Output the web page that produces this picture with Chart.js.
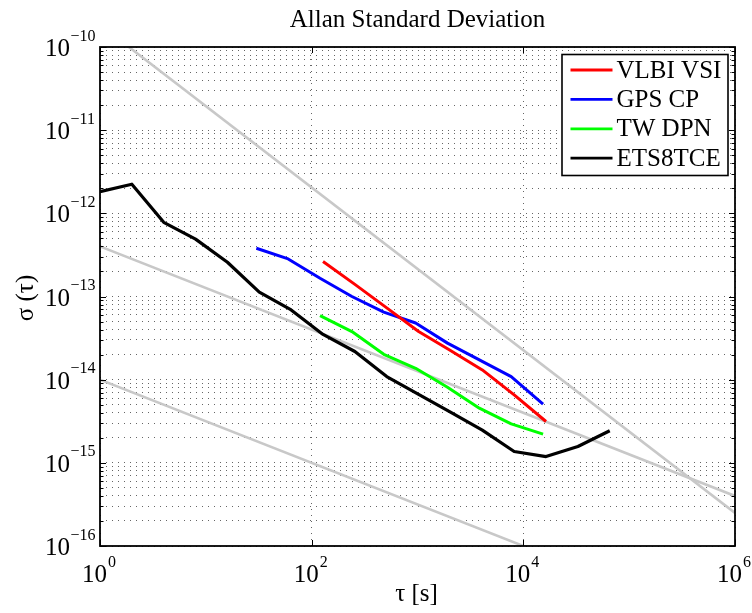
<!DOCTYPE html>
<html>
<head>
<meta charset="utf-8">
<script src="https://cdn.jsdelivr.net/npm/chart.js@4.4.1/dist/chart.umd.min.js"></script>
<style>
  html, body { margin: 0; padding: 0; background: #ffffff; }
  #wrap { width: 752px; height: 613px; position: relative; }
</style>
</head>
<body>
<div id="wrap"><canvas id="c" width="752" height="613"></canvas></div>
<script>
// ---------------- data ----------------
const SERIES_LABELS = ['VLBI VSI', 'GPS CP', 'TW DPN', 'ETS8TCE'];
const SERIES_COLORS = ['#ff0000', '#0000ff', '#00ff00', '#000000'];

const VLBI_TAU   = [128, 256, 512, 1024, 2048, 4096, 8192, 16384];
const VLBI_SIGMA = [2.63e-13, 1.40e-13, 7.3e-14, 3.8e-14, 2.24e-14, 1.31e-14, 6.56e-15, 3.14e-15];

const GPS_TAU   = [30, 60, 120, 240, 480, 960, 1920, 3840, 7680, 15360];
const GPS_SIGMA = [3.8e-13, 2.83e-13, 1.66e-13, 1.0e-13, 6.5e-14, 4.8e-14, 2.75e-14, 1.73e-14, 1.09e-14, 5.07e-15];

const TW_TAU   = [120, 240, 480, 960, 1920, 3840, 7680, 15360];
const TW_SIGMA = [5.9e-14, 3.79e-14, 2.02e-14, 1.37e-14, 8.1e-15, 4.54e-15, 2.94e-15, 2.21e-15];

const ETS_TAU   = [1, 2, 4, 8, 16, 32, 64, 128, 256, 512, 1024, 2048, 4096, 8192, 16384, 32768, 65536];
const ETS_SIGMA = [1.82e-12, 2.24e-12, 7.8e-13, 4.9e-13, 2.58e-13, 1.13e-13, 6.9e-14, 3.5e-14, 2.18e-14, 1.09e-14, 6.65e-15, 4.06e-15, 2.47e-15, 1.37e-15, 1.19e-15, 1.57e-15, 2.43e-15];

// grey reference lines (two end points each, tau = 1 and tau = 1e6)
const REF_TAU    = [1, 1e6];
const REF_A      = [1.85e-10, 2.5e-16];
const REF_B      = [4e-13, 4e-16];
const REF_C      = [1e-14, 1e-17];

// tick labels (powers of ten)
const X_TICK_EXP = [0, 2, 4, 6];
const Y_TICK_EXP = [-16, -15, -14, -13, -12, -11, -10];

const TITLE   = 'Allan Standard Deviation';
const X_TITLE = 'τ [s]';
const Y_TITLE = 'σ (τ)';

// ---------------- helpers ----------------
const FONT = '"Liberation Serif", "Times New Roman", Times, serif';
const pts = (xs, ys) => xs.map((x, i) => ({ x: x, y: ys[i] }));

function lineDs(label, xs, ys, color, width) {
  return {
    label: label,
    data: pts(xs, ys),
    borderColor: color,
    backgroundColor: color,
    borderWidth: width,
    borderJoinStyle: 'round',
    borderCapStyle: 'butt',
    pointRadius: 0,
    pointHoverRadius: 0,
    tension: 0,
    fill: false,
    clip: 0
  };
}

const datasets = [
  lineDs(SERIES_LABELS[0], VLBI_TAU, VLBI_SIGMA, SERIES_COLORS[0], 3),
  lineDs(SERIES_LABELS[1], GPS_TAU, GPS_SIGMA, SERIES_COLORS[1], 3),
  lineDs(SERIES_LABELS[2], TW_TAU, TW_SIGMA, SERIES_COLORS[2], 3),
  lineDs(SERIES_LABELS[3], ETS_TAU, ETS_SIGMA, SERIES_COLORS[3], 3.2),
  lineDs('ref1', REF_TAU, REF_A, '#c8c8c8', 2.6),
  lineDs('ref2', REF_TAU, REF_B, '#c8c8c8', 2.6),
  lineDs('ref3', REF_TAU, REF_C, '#c8c8c8', 2.6)
];

const yTickValues = [];
for (let e = -16; e < -10; e++) {
  for (let k = 1; k <= 9; k++) yTickValues.push(k * Math.pow(10, e));
}
yTickValues.push(1e-10);
const xTickValues = X_TICK_EXP.map(e => Math.pow(10, e));

const gridCommon = {
  color: 'rgba(0,0,0,0.6)',
  lineWidth: 1,
  drawTicks: false
};

// ---------------- decorations plugin ----------------
const decor = {
  id: 'decor',
  afterDatasetsDraw(chart) {
    const ctx = chart.ctx;
    const a = chart.chartArea;
    const xs = chart.scales.x, ys = chart.scales.y;
    ctx.save();
    ctx.strokeStyle = '#000';
    ctx.lineWidth = 1;
    // inward ticks on y (left & right)
    ys.ticks.forEach(t => {
      const y = Math.round(ys.getPixelForValue(t.value)) + 0.5;
      const lg = Math.log10(t.value);
      const major = Math.abs(lg - Math.round(lg)) < 1e-6;
      const len = major ? 6 : 3.5;
      ctx.beginPath();
      ctx.moveTo(a.left, y); ctx.lineTo(a.left + len, y);
      ctx.moveTo(a.right, y); ctx.lineTo(a.right - len, y);
      ctx.stroke();
    });
    // inward ticks on x (top & bottom)
    xs.ticks.forEach(t => {
      const x = Math.round(xs.getPixelForValue(t.value)) + 0.5;
      ctx.beginPath();
      ctx.moveTo(x, a.bottom); ctx.lineTo(x, a.bottom - 6);
      ctx.moveTo(x, a.top); ctx.lineTo(x, a.top + 6);
      ctx.stroke();
    });
    // frame
    ctx.lineWidth = 1.8;
    ctx.strokeRect(a.left, a.top, a.right - a.left, a.bottom - a.top);
    ctx.restore();
  },
  afterDraw(chart) {
    const ctx = chart.ctx;
    const a = chart.chartArea;
    const xs = chart.scales.x, ys = chart.scales.y;
    ctx.save();
    ctx.fillStyle = '#000';

    // y tick labels 10^n
    Y_TICK_EXP.forEach(e => {
      const y = ys.getPixelForValue(Math.pow(10, e));
      const xr = a.left - 30;
      ctx.font = '25px ' + FONT;
      ctx.textAlign = 'right';
      ctx.textBaseline = 'alphabetic';
      ctx.fillText('10', xr, y + 9);
      ctx.font = '16px ' + FONT;
      ctx.textAlign = 'left';
      ctx.fillText((e < 0 ? '\u2212' : '') + Math.abs(e), xr + 0.5, y - 6.5);
    });

    // x tick labels 10^n
    X_TICK_EXP.forEach(e => {
      const x = xs.getPixelForValue(Math.pow(10, e));
      ctx.font = '25px ' + FONT;
      ctx.textAlign = 'right';
      ctx.textBaseline = 'alphabetic';
      ctx.fillText('10', x + 7, a.bottom + 35.5);
      ctx.font = '16px ' + FONT;
      ctx.textAlign = 'left';
      ctx.fillText(String(e), x + 8, a.bottom + 20.5);
    });

    // title
    ctx.font = '25px ' + FONT;
    ctx.textAlign = 'center';
    ctx.textBaseline = 'alphabetic';
    ctx.fillText(TITLE, (a.left + a.right) / 2, 27);

    // x title
    ctx.fillText(X_TITLE, (a.left + a.right) / 2 - 1, 601);

    // y title (rotated)
    ctx.save();
    ctx.translate(33, 298);
    ctx.rotate(-Math.PI / 2);
    ctx.fillText(Y_TITLE, 0, 0);
    ctx.restore();

    // legend (from the chart's own datasets)
    const bx = 562, by = 54.5, bw = 166, bh = 121;
    ctx.fillStyle = '#fff';
    ctx.fillRect(bx, by, bw, bh);
    ctx.strokeStyle = '#000';
    ctx.lineWidth = 1.6;
    ctx.strokeRect(bx, by, bw, bh);
    const rowY = [70, 99.4, 128.8, 158.2];
    for (let i = 0; i < 4; i++) {
      const ds = chart.data.datasets[i];
      ctx.strokeStyle = ds.borderColor;
      ctx.lineWidth = 2.8;
      ctx.beginPath();
      ctx.moveTo(570.5, rowY[i]);
      ctx.lineTo(612.5, rowY[i]);
      ctx.stroke();
      ctx.fillStyle = '#000';
      ctx.font = '25px ' + FONT;
      ctx.textAlign = 'left';
      ctx.textBaseline = 'middle';
      ctx.fillText(ds.label, 616.5, rowY[i] + 1);
    }
    ctx.restore();
  }
};

// ---------------- chart ----------------
new Chart(document.getElementById('c'), {
  type: 'line',
  data: { datasets: datasets },
  options: {
    responsive: false,
    animation: false,
    events: [],
    layout: { padding: { left: 100, right: 17, top: 47, bottom: 67 } },
    plugins: { legend: { display: false }, tooltip: { enabled: false }, title: { display: false } },
    scales: {
      x: {
        type: 'logarithmic',
        min: 1, max: 1e6,
        afterBuildTicks: s => { s.ticks = xTickValues.map(v => ({ value: v })); },
        afterFit: s => { s.height = 0; },
        ticks: { display: false },
        grid: gridCommon,
        border: { display: false, dash: [1, 5] }
      },
      y: {
        type: 'logarithmic',
        min: 1e-16, max: 1e-10,
        afterBuildTicks: s => { s.ticks = yTickValues.map(v => ({ value: v })); },
        afterFit: s => { s.width = 0; },
        ticks: { display: false },
        grid: gridCommon,
        border: { display: false, dash: [1, 5] }
      }
    }
  },
  plugins: [decor]
});
</script>
</body>
</html>
